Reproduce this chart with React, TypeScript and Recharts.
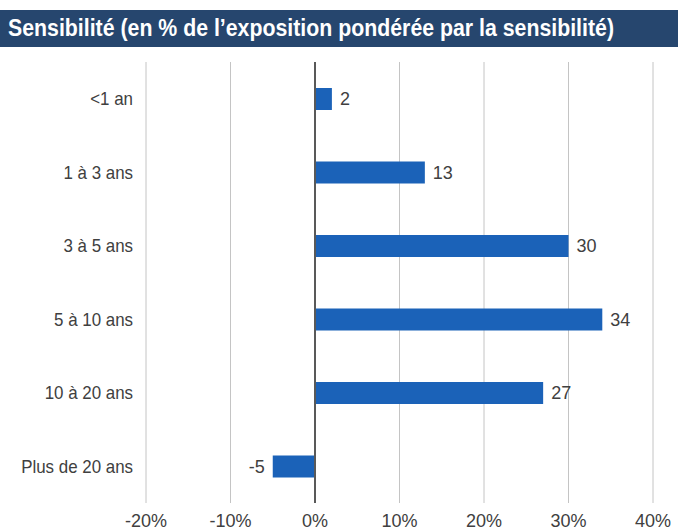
import React from 'react'
import { BarChart, Bar, XAxis, YAxis, CartesianGrid, ReferenceLine, LabelList } from 'recharts'

const categories = ['<1 an', '1 à 3 ans', '3 à 5 ans', '5 à 10 ans', '10 à 20 ans', 'Plus de 20 ans']
const sensitivity = [2, 13, 30, 34, 27, -5]
const xTicks = [-20, -10, 0, 10, 20, 30, 40]

const data = categories.map((name, i) => ({ name, value: sensitivity[i] }))

const FONT = '"Liberation Sans", Arial, sans-serif'
const TEXT = '#404040'
const BLUE = '#1b62b8'
const TITLE = 'Sensibilité (en % de l’exposition pondérée par la sensibilité)'

// category labels look condensed in the source, squeeze them a bit
const CategoryTick = (props: any) => {
  const { x, y, payload } = props
  return (
    <text
      transform={`translate(${x - 5},${y}) scale(0.94,1)`}
      textAnchor="end"
      dy="0.35em"
      fill={TEXT}
      fontSize={18}
      fontFamily={FONT}
    >
      {payload.value}
    </text>
  )
}

export default function App() {
  return (
    <div
      style={{
        position: 'absolute',
        top: 0,
        left: 0,
        width: 678,
        height: 531,
        background: '#fff',
        fontFamily: FONT,
      }}
    >
      <svg width={678} height={531} style={{ position: 'absolute', top: 0, left: 0 }}>
        <rect x={0} y={10} width={678} height={37} fill="#26466e" />
        <text
          x={8}
          y={36}
          fill="#fff"
          fontWeight="bold"
          fontSize={23}
          fontFamily={FONT}
          textLength={606}
          lengthAdjust="spacingAndGlyphs"
        >
          {TITLE}
        </text>
      </svg>
      <BarChart
        width={678}
        height={531}
        data={data}
        layout="vertical"
        margin={{ top: 62, right: 25, bottom: 0, left: 0 }}
        style={{ position: 'absolute', top: 0, left: 0 }}
      >
        <CartesianGrid horizontal={false} stroke="#c4c4c4" />
        <XAxis
          type="number"
          domain={[-20, 40]}
          ticks={xTicks}
          tickFormatter={(v) => `${v}%`}
          axisLine={false}
          tickLine={false}
          height={28}
          tick={{ fill: TEXT, fontSize: 18, fontFamily: FONT, dy: 3 }}
        />
        <YAxis
          type="category"
          dataKey="name"
          width={146}
          axisLine={false}
          tickLine={false}
          tick={<CategoryTick />}
        />
        <ReferenceLine x={0} stroke="#595959" strokeWidth={2} />
        <Bar dataKey="value" fill={BLUE} barSize={22} isAnimationActive={false}>
          <LabelList
            dataKey="value"
            position="right"
            offset={8}
            fill={TEXT}
            fontSize={18}
            fontFamily={FONT}
          />
        </Bar>
      </BarChart>
    </div>
  )
}
